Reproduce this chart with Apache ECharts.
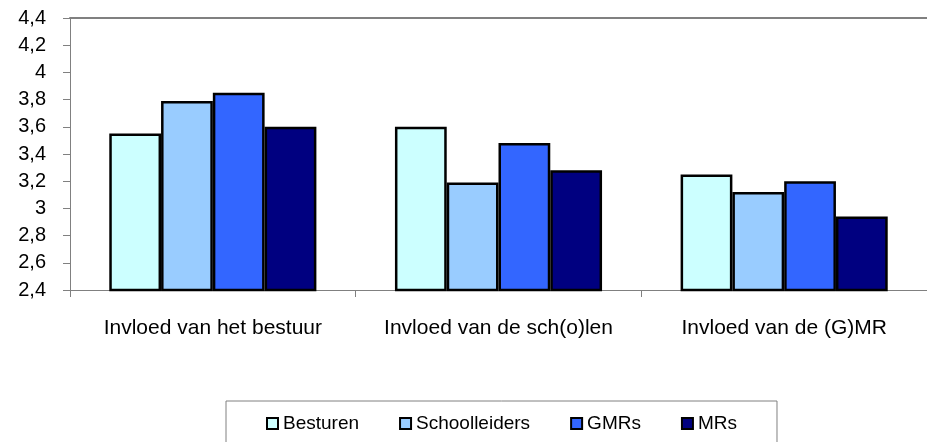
<!DOCTYPE html>
<html>
<head>
<meta charset="utf-8">
<script src="https://cdn.jsdelivr.net/npm/echarts@6/dist/echarts.min.js"></script>
<style>
  html, body { margin: 0; padding: 0; background: #fff; }
  #chart { width: 927px; height: 442px; }
</style>
</head>
<body>
<div id="chart"></div>
<script>
var categories = ['Invloed van het bestuur', 'Invloed van de sch(o)len', 'Invloed van de (G)MR'];
var besturen = [3.55, 3.60, 3.25];
var schoolleiders = [3.79, 3.19, 3.12];
var gmrs = [3.85, 3.48, 3.20];
var mrs = [3.60, 3.28, 2.94];

var font = '"Liberation Sans", Arial, sans-serif';
var border = { borderColor: '#000', borderWidth: 2.5 };

function bar(name, values, color) {
  return {
    name: name,
    type: 'bar',
    data: values,
    barGap: '0%',
    barCategoryGap: '27.5%',
    itemStyle: Object.assign({ color: color }, border),
  };
}

var chart = echarts.init(document.getElementById('chart'));
chart.setOption({
  animation: false,
  textStyle: { fontFamily: font, color: '#000' },
  grid: { left: 70, top: 18, width: 861, height: 272 },
  legend: {
    left: 226,
    top: 401,
    padding: [13, 40, 30, 40],
    itemGap: 40,
    itemWidth: 11,
    itemHeight: 11,
    icon: 'rect',
    borderColor: '#808080',
    borderWidth: 1,
    textStyle: { fontFamily: font, fontSize: 19, color: '#000' },
    data: ['Besturen', 'Schoolleiders', 'GMRs', 'MRs'],
  },
  xAxis: [
    {
      type: 'category',
      data: categories,
      axisLine: { lineStyle: { color: '#808080', width: 1 } },
      axisTick: { show: true, length: 7, lineStyle: { color: '#808080' } },
      axisLabel: { interval: 0, fontSize: 21, color: '#000', margin: 28, fontFamily: font },
    },
    {
      type: 'category',
      position: 'top',
      data: categories,
      axisLine: { lineStyle: { color: '#808080', width: 2 } },
      axisTick: { show: false },
      axisLabel: { show: false },
    },
  ],
  yAxis: {
    type: 'value',
    min: 2.4,
    max: 4.4,
    interval: 0.2,
    axisLine: { show: true, lineStyle: { color: '#808080' } },
    axisTick: { show: true, length: 7, lineStyle: { color: '#808080' } },
    splitLine: { show: false },
    axisLabel: {
      fontSize: 20,
      color: '#000',
      margin: 24,
      fontFamily: font,
      formatter: function (v) {
        return String(Number(v.toFixed(1))).replace('.', ',');
      },
    },
  },
  series: [
    bar('Besturen', besturen, '#CCFFFF'),
    bar('Schoolleiders', schoolleiders, '#99CCFF'),
    bar('GMRs', gmrs, '#3366FF'),
    bar('MRs', mrs, '#000080'),
  ],
});
</script>
</body>
</html>
